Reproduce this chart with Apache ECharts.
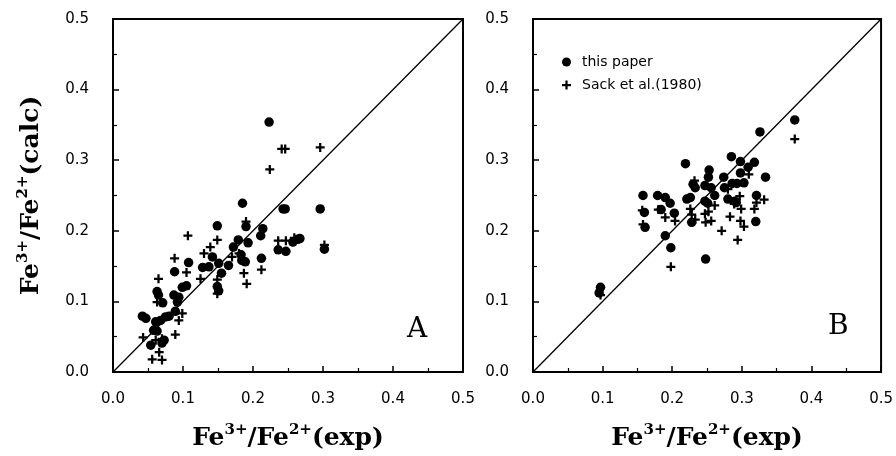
<!DOCTYPE html>
<html>
<head>
<meta charset="utf-8">
<script src="https://cdn.jsdelivr.net/npm/echarts@6/dist/echarts.min.js"></script>
<style>
html,body{margin:0;padding:0;background:#fff;}
#chart{width:896px;height:456px;}
</style>
</head>
<body>
<div id="chart"></div>
<script>
// ---- data ----
var tickValues = [0.0, 0.1, 0.2, 0.3, 0.4, 0.5];
var diagonal = [0, 0.5];
var seriesNames = ['this paper', 'Sack et al.(1980)'];
var panelLetters = ['A', 'B'];

// Panel A: this paper (filled circles)
var panelA_this = [
  [0.223,0.354],[0.185,0.239],[0.243,0.231],[0.246,0.231],[0.296,0.231],
  [0.214,0.203],[0.211,0.193],[0.190,0.206],[0.193,0.183],[0.149,0.207],
  [0.212,0.161],[0.236,0.173],[0.247,0.171],[0.257,0.184],[0.264,0.188],
  [0.267,0.189],[0.302,0.174],[0.179,0.187],[0.172,0.177],[0.165,0.151],
  [0.183,0.166],[0.184,0.158],[0.189,0.156],[0.155,0.140],[0.151,0.154],
  [0.149,0.121],[0.151,0.115],[0.142,0.163],[0.137,0.149],[0.128,0.148],
  [0.108,0.155],[0.105,0.122],[0.099,0.120],[0.088,0.142],[0.087,0.109],
  [0.094,0.106],[0.092,0.099],[0.089,0.086],[0.063,0.114],[0.065,0.109],
  [0.071,0.098],[0.042,0.079],[0.047,0.076],[0.061,0.071],[0.068,0.073],
  [0.075,0.078],[0.080,0.079],[0.058,0.059],[0.063,0.058],[0.054,0.038],
  [0.070,0.041],[0.073,0.045]
];
// Panel A: Sack et al. (crosses)
var panelA_sack = [
  [0.224,0.287],[0.241,0.316],[0.246,0.316],[0.296,0.318],[0.190,0.213],
  [0.107,0.193],[0.088,0.161],[0.065,0.132],[0.105,0.141],[0.130,0.168],
  [0.139,0.177],[0.149,0.187],[0.125,0.132],[0.149,0.131],[0.149,0.111],
  [0.191,0.125],[0.212,0.145],[0.236,0.186],[0.247,0.186],[0.259,0.190],
  [0.302,0.180],[0.063,0.099],[0.099,0.083],[0.094,0.073],[0.089,0.053],
  [0.043,0.049],[0.061,0.045],[0.070,0.047],[0.066,0.028],[0.056,0.018],
  [0.070,0.017],[0.170,0.163],[0.180,0.168],[0.187,0.140]
];
// Panel B: this paper (filled circles)
var panelB_this = [
  [0.376,0.357],[0.326,0.340],[0.285,0.305],[0.219,0.295],[0.298,0.298],
  [0.318,0.297],[0.309,0.290],[0.334,0.276],[0.253,0.286],[0.252,0.276],
  [0.274,0.276],[0.298,0.282],[0.275,0.261],[0.286,0.267],[0.293,0.267],
  [0.303,0.268],[0.230,0.266],[0.233,0.261],[0.247,0.264],[0.256,0.261],
  [0.261,0.250],[0.158,0.250],[0.160,0.226],[0.161,0.205],[0.179,0.250],
  [0.190,0.247],[0.197,0.239],[0.184,0.230],[0.203,0.225],[0.190,0.193],
  [0.198,0.176],[0.221,0.245],[0.226,0.247],[0.228,0.212],[0.247,0.242],
  [0.251,0.239],[0.248,0.160],[0.280,0.245],[0.290,0.242],[0.292,0.240],
  [0.321,0.250],[0.320,0.213],[0.095,0.112],[0.097,0.120]
];
// Panel B: Sack et al. (crosses)
var panelB_sack = [
  [0.376,0.330],[0.310,0.280],[0.280,0.259],[0.232,0.271],[0.157,0.229],
  [0.158,0.209],[0.180,0.230],[0.190,0.219],[0.204,0.214],[0.226,0.231],
  [0.228,0.223],[0.233,0.216],[0.247,0.224],[0.252,0.227],[0.256,0.214],
  [0.248,0.212],[0.261,0.236],[0.271,0.200],[0.283,0.220],[0.294,0.187],
  [0.298,0.214],[0.303,0.206],[0.297,0.249],[0.299,0.231],[0.318,0.231],
  [0.321,0.240],[0.332,0.244],[0.198,0.149],[0.097,0.109],[0.289,0.238]
];

// ---- chart ----
var plusPath = 'path://M3,0H5V3H8V5H5V8H3V5H0V3H3Z';
var tickFont = 'DejaVu Sans';
var titleFont = 'DejaVu Serif';

var richTitle = {
  b: {fontFamily: titleFont, fontWeight: 'bold', fontSize: 25, color: '#000', lineHeight: 28, verticalAlign: 'bottom'},
  s: {fontFamily: titleFont, fontWeight: 'bold', fontSize: 15, color: '#000', lineHeight: 15, verticalAlign: 'top'}
};
var xName = '{b|Fe}{s|3+}{b|/Fe}{s|2+}{b|(exp)}';
var yName = '{b|Fe}{s|3+}{b|/Fe}{s|2+}{b|(calc)}';

function makeAxis(idx, isX, name) {
  return {
    type: 'value', gridIndex: idx, min: tickValues[0], max: tickValues[tickValues.length-1], interval: 0.1,
    name: name, nameLocation: 'middle', nameGap: isX ? 51 : 69,
    nameTextStyle: {rich: richTitle},
    axisLine: {show: true, lineStyle: {color: '#000', width: 2}},
    axisTick: {show: true, inside: true, length: 6, lineStyle: {color: '#000', width: 1.5}},
    minorTick: {show: true, splitNumber: 2, length: 4, lineStyle: {color: '#000', width: 1.2}},
    splitLine: {show: false},
    axisLabel: {
      color: '#000', fontFamily: tickFont, fontSize: 15, margin: isX ? 20 : 24,
      formatter: function (v) { return v.toFixed(1); }
    }
  };
}

var grids = [
  {left: 113, top: 19, width: 350, height: 353, show: true, borderColor: '#000', borderWidth: 2, backgroundColor: 'transparent'},
  {left: 533, top: 19, width: 351, height: 353, show: true, borderColor: '#000', borderWidth: 2, backgroundColor: 'transparent'}
];

function scatter(name, idx, data, isPlus) {
  return {
    name: name, type: 'scatter', xAxisIndex: idx, yAxisIndex: idx, data: data,
    symbol: isPlus ? plusPath : 'circle', symbolSize: isPlus ? 9 : 9.5,
    itemStyle: {color: '#000', opacity: 1},
    emphasis: {disabled: true}, z: 3
  };
}
function diag(idx) {
  return {
    type: 'line', xAxisIndex: idx, yAxisIndex: idx,
    data: [[diagonal[0], diagonal[0]], [diagonal[1], diagonal[1]]],
    symbol: 'none', lineStyle: {color: '#000', width: 1.3}, silent: true, z: 2
  };
}

var chart = echarts.init(document.getElementById('chart'), null, {renderer: 'canvas'});
chart.setOption({
  animation: false,
  backgroundColor: '#fff',
  grid: grids,
  xAxis: [makeAxis(0, true, xName), makeAxis(1, true, xName)],
  yAxis: [makeAxis(0, false, yName), makeAxis(1, false, '')],
  legend: {
    data: [
      {name: seriesNames[0], icon: 'circle'},
      {name: seriesNames[1], icon: plusPath}
    ],
    orient: 'vertical', left: 557, top: 50, itemWidth: 9, itemHeight: 9, itemGap: 9,
    textStyle: {fontFamily: tickFont, fontSize: 14, color: '#000', padding: [0,0,0,6]},
    selectedMode: false
  },
  graphic: [
    {type: 'text', left: 407, top: 316, style: {text: panelLetters[0], font: '28px "DejaVu Serif"', fill: '#000'}},
    {type: 'text', left: 828, top: 313, style: {text: panelLetters[1], font: '28px "DejaVu Serif"', fill: '#000'}}
  ],
  series: [
    diag(0), diag(1),
    scatter(seriesNames[1], 0, panelA_sack, true),
    scatter(seriesNames[0], 0, panelA_this, false),
    scatter(seriesNames[1], 1, panelB_sack, true),
    scatter(seriesNames[0], 1, panelB_this, false)
  ]
});
</script>
</body>
</html>
